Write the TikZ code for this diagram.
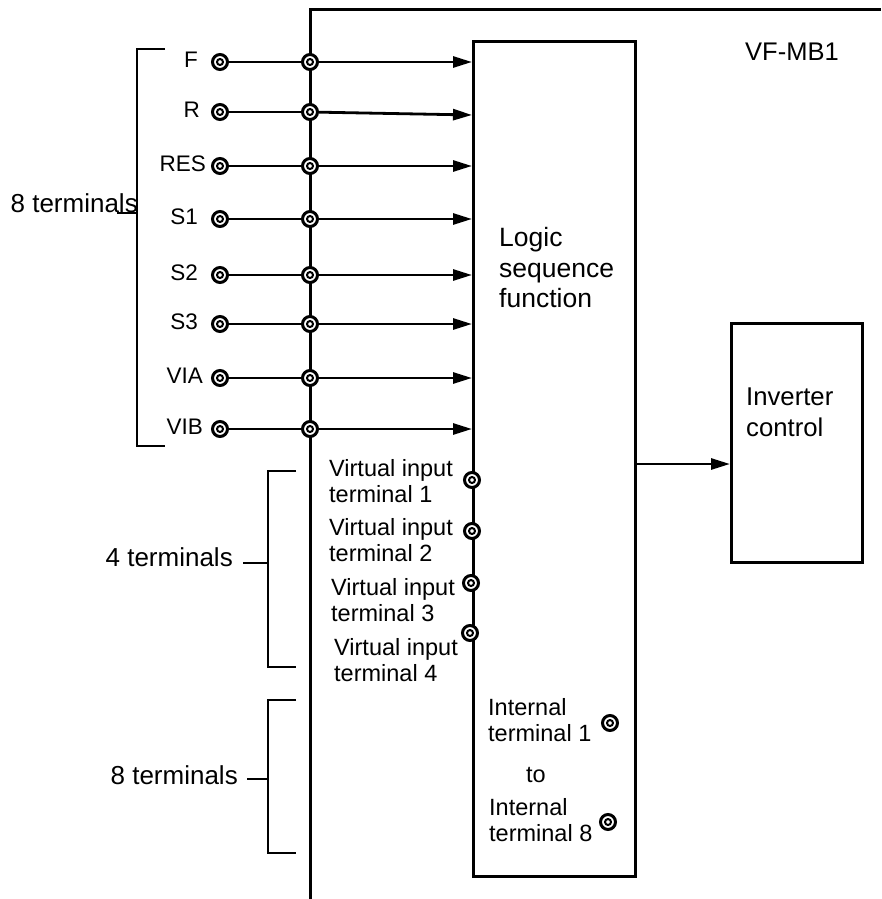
\documentclass[tikz,border=0pt]{standalone}
\usepackage{fontspec}
\setmainfont{Liberation Sans}
\usetikzlibrary{arrows.meta,positioning}

\tikzset{
  term/.style={circle,draw,fill=white,line width=3pt,minimum size=15pt,inner sep=0pt,
    path picture={\draw[line width=2pt] (path picture bounding box.center) circle (3pt);}},
  wire/.style={line width=2.8pt},
  feed/.style={wire,-{Triangle[length=19pt,width=11pt]}},
  brace/.style={line width=1.1pt},
  block/.style={draw,line width=3pt,inner sep=0pt,anchor=north west},
  termlabel/.style={inner sep=0pt,anchor=east,font=\fontsize{22.5pt}{26pt}\selectfont},
  vtext/.style={inner sep=0pt,anchor=west,align=left,font=\fontsize{23.5pt}{26pt}\selectfont},
  counttext/.style={inner sep=0pt,anchor=east,font=\fontsize{26pt}{30pt}\selectfont},
  blocktext/.style={inner sep=0pt,anchor=west,align=left,font=\fontsize{26.5pt}{30.5pt}\selectfont},
}

\begin{document}
\begin{tikzpicture}[x=1pt,y=-1pt]
  \useasboundingbox (0,0) rectangle (881,899);
  % bus line and frame
  \draw[wire,line width=3pt] (310,899) -- (310,10) -- (881,10);
  \node[anchor=west,inner sep=0pt,font=\fontsize{25.5pt}{30pt}\selectfont] (board) at (745,52) {VF-MB1};
  % blocks
  \node[block,minimum width=162pt,minimum height=835pt] (logic) at (472,40) {};
  \node[block,minimum width=131pt,minimum height=239pt] (inv) at (730,322) {};
  \node[blocktext] (logictxt) at (499,268) {Logic\\sequence\\function};
  \node[blocktext,font=\fontsize{25.7pt}{31pt}\selectfont] (invtxt) at (746,412) {Inverter\\control};
  \coordinate (out) at (634,464);
  \draw[feed] (out) -- (out -| inv.west);
  % input terminals
  \foreach \n/\lab/\y/\ye/\lx in {f/F/62/62/198, r/R/112/115/200, res/RES/166/166/206,
      s1/S1/219/219/198, s2/S2/275/275/198, s3/S3/324/324/198,
      via/VIA/378/378/203, vib/VIB/429/429/203}{
    \node[term] (a\n) at (220,\y) {};
    \node[term] (b\n) at (310,\y) {};
    \node[termlabel] (l\n) at (\lx,\y-2) {\lab};
    \coordinate (e\n) at (472,\ye);
    \draw[wire] (a\n) -- (b\n);
    \draw[feed] (b\n) -- (e\n);
  }
  % virtual input terminals
  \node[vtext] (v1) at (329,481) {Virtual input\\terminal 1};
  \node[vtext] (v2) at (329,540) {Virtual input\\terminal 2};
  \node[vtext] (v3) at (331,600) {Virtual input\\terminal 3};
  \node[vtext] (v4) at (334,660) {Virtual input\\terminal 4};
  \node[term] (vt1) at (472,480) {};
  \node[term] (vt2) at (472,531) {};
  \node[term] (vt3) at (471,583) {};
  \node[term] (vt4) at (470,633) {};
  % internal terminals
  \node[vtext] (i1) at (488,720) {Internal\\terminal 1};
  \node[vtext] (ito) at (526,775) {to};
  \node[vtext] (i8) at (489,820) {Internal\\terminal 8};
  \node[term] (it1) at (610,723) {};
  \node[term] (it8) at (608,822) {};
  % brackets
  \draw[brace] (165,49) -- (137,49) -- (137,446) -- (165,446);
  \draw[brace] (117,213) -- (137,213);
  \node[counttext] (cnt8a) at (138,203) {8 terminals};
  \draw[brace] (296,471) -- (268,471) -- (268,667) -- (296,667);
  \draw[brace] (243,563) -- (268,563);
  \node[counttext] (cnt4) at (233,557) {4 terminals};
  \draw[brace] (296,700) -- (268,700) -- (268,853) -- (296,853);
  \draw[brace] (247,779) -- (268,779);
  \node[counttext] (cnt8b) at (238,775) {8 terminals};
\end{tikzpicture}
\end{document}
